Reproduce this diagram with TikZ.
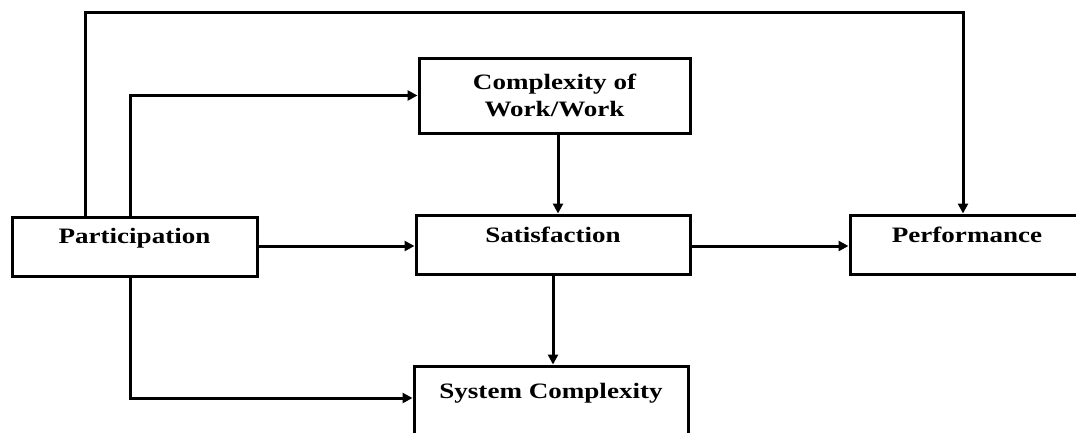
\documentclass[tikz,border=0pt]{standalone}
\usepackage{fontspec}
\newfontfamily\boxfont{Liberation Serif}[FakeStretch=1.23]
\usetikzlibrary{arrows.meta,calc}
\begin{document}
\begin{tikzpicture}[x=1pt,y=-1pt,
  box/.style={draw,line width=3pt,inner sep=0pt,align=center,
    font=\boxfont\bfseries\fontsize{22}{27}\selectfont},
  oneline/.style={box,text height=15pt},
  conn/.style={line width=3pt,line join=miter},
  arr/.style={conn,-{Triangle[length=10pt,width=10pt]}}]
\useasboundingbox (0,0) rectangle (1076,432);
\node[oneline,minimum width=245pt,minimum height=59pt,text depth=21pt] (part) at (134.5,246.5) {Participation};
\node[box,minimum width=271pt,minimum height=75pt] (cplx) at (554.5,95.5) {Complexity of\\Work/Work};
\node[oneline,minimum width=274pt,minimum height=59pt,text depth=20pt] (sat) at (553,244.5) {Satisfaction};
\node[oneline,minimum width=234pt,minimum height=59pt,text depth=20pt] (perf) at (967,244.5) {Performance};
\node[oneline,minimum width=274pt,minimum height=84pt,text depth=35pt] (sys) at (551,408) {System Complexity};
\coordinate (xa) at (85,0);
\coordinate (xb) at (130,0);
\coordinate (xc) at (963,0);
\coordinate (xd) at (558,0);
\coordinate (ytop) at (0,12);
\coordinate (ymid) at (0,246);
\coordinate (ybot) at (0,398);
% connectors
\draw[arr] (part.north -| xa) -- (xa |- ytop) -| (perf.north -| xc);
\draw[arr] (part.north -| xb) |- (cplx.west);
\draw[arr] (part.east |- ymid) -- (sat.west |- ymid);
\draw[arr] (part.south -| xb) -- (xb |- ybot) -- (sys.west |- ybot);
\draw[arr] (cplx.south -| xd) -- (sat.north -| xd);
\draw[arr] (sat.south) -- (sys.north -| sat.south);
\draw[arr] (sat.east |- ymid) -- (perf.west |- ymid);
\end{tikzpicture}
\end{document}
